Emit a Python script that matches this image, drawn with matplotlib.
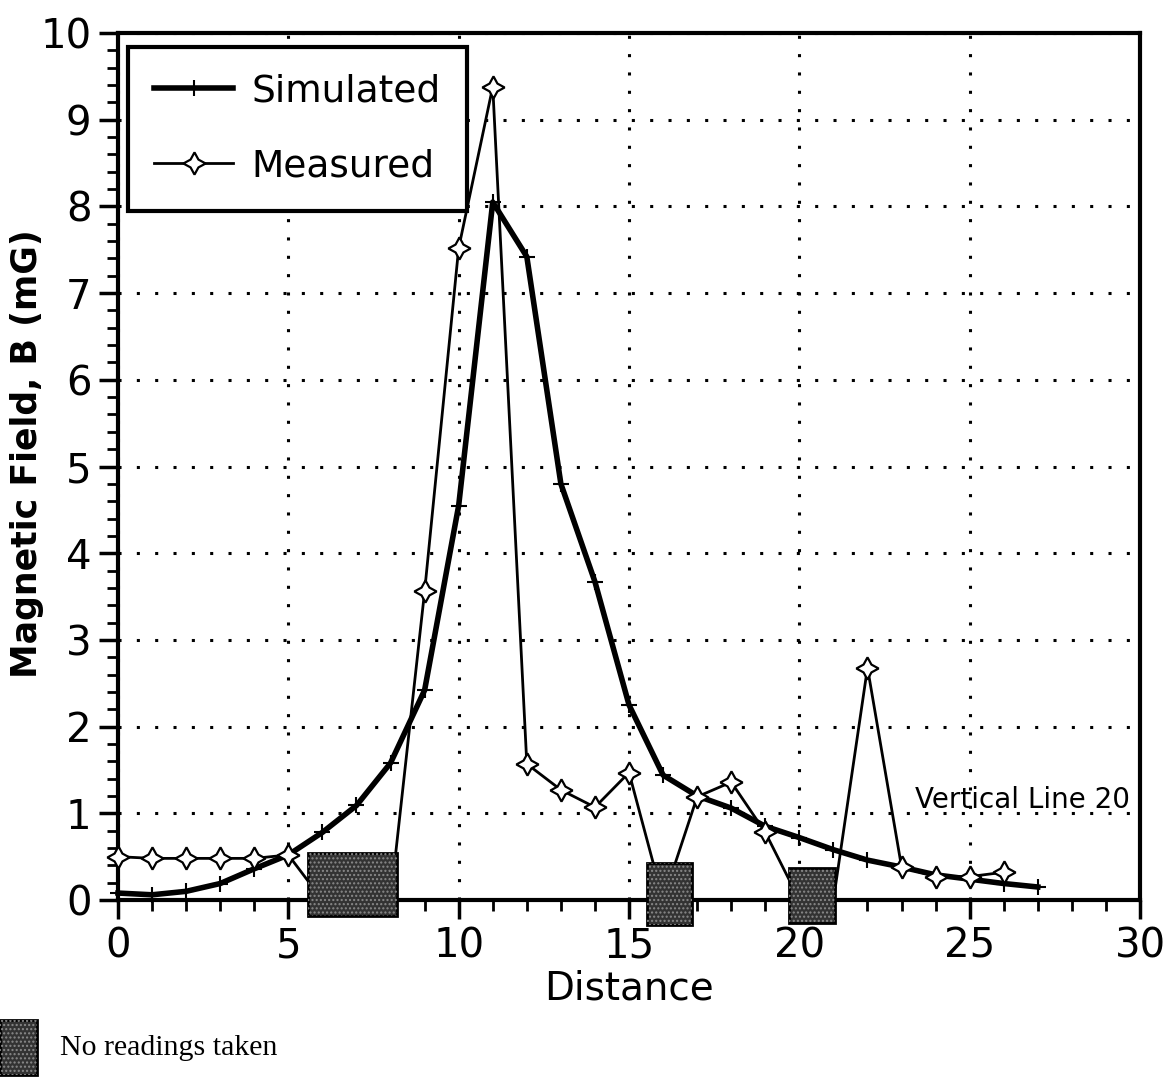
import matplotlib
matplotlib.use("Agg")
import matplotlib.pyplot as plt
from matplotlib.patches import Rectangle
from matplotlib.ticker import MultipleLocator

# values
sim_x = list(range(0, 28))
sim_b = [0.08, 0.06, 0.10, 0.19, 0.36, 0.52, 0.78, 1.09, 1.58, 2.42,
         4.55, 8.05, 7.42, 4.80, 3.67, 2.25, 1.44, 1.20, 1.06, 0.85,
         0.72, 0.58, 0.46, 0.38, 0.29, 0.24, 0.19, 0.15]
meas_x = list(range(0, 27))
meas_b = [0.50, 0.48, 0.48, 0.48, 0.48, 0.52, 0.0, 0.0, 0.0, 3.56,
          7.52, 9.38, 1.57, 1.27, 1.07, 1.47, 0.0, 1.19, 1.36, 0.78,
          0.0, 0.0, 2.68, 0.38, 0.27, 0.27, 0.32]
# spans where no readings were taken (x start, x end, y low, y high)
gaps = [(5.58, 8.19, -0.18, 0.54), (15.54, 16.85, -0.29, 0.43), (19.7, 21.05, -0.27, 0.37)]

plt.rcParams['font.family'] = ['DejaVu Sans']

fig = plt.figure(figsize=(11.73, 10.79), dpi=100)
ax = fig.add_axes([0.1006, 0.1659, 0.8713, 0.8035])

star = (4, 1, 0)
# the missing readings sit under the shaded boxes, so no marker for them
meas_marks = [i for i, v in enumerate(meas_b) if v > 0]
l1, = ax.plot(sim_x, sim_b, color='black', lw=4, marker='+', ms=12, mew=1.5, zorder=3, clip_on=False)
l2, = ax.plot(meas_x, meas_b, color='black', lw=2, marker=star, ms=16, mfc='white', mec='black',
              mew=1.6, markevery=meas_marks, zorder=4, clip_on=False)

def shaded_box(axis, x0, y0, w, h, transform):
    axis.add_patch(Rectangle((x0, y0), w, h, facecolor='#333333', edgecolor='black', lw=2,
                             zorder=6, clip_on=False, transform=transform))
    axis.add_patch(Rectangle((x0, y0), w, h, fill=False, hatch='....', edgecolor='#8a8a8a', lw=0,
                             zorder=7, clip_on=False, transform=transform))

for g in gaps:
    shaded_box(ax, g[0], g[2], g[1] - g[0], g[3] - g[2], ax.transData)

ax.set_xlim(0, 30)
ax.set_ylim(0, 10)
ax.xaxis.set_major_locator(MultipleLocator(5))
ax.xaxis.set_minor_locator(MultipleLocator(1))
ax.yaxis.set_major_locator(MultipleLocator(1))
ax.yaxis.set_minor_locator(MultipleLocator(0.2))
ax.tick_params(which='major', direction='out', length=14, width=2.5, labelsize=29, pad=5)
ax.tick_params(which='minor', direction='out', length=8, width=2)
for s in ax.spines.values():
    s.set_linewidth(3)
ax.grid(True, which='major', color='black', linestyle=(0, (1, 5)), lw=2.2)

ax.set_xlabel('Distance', fontsize=28, labelpad=2)
fig.text(27 / 1173, 1 - 454 / 1079, 'Magnetic Field, B (mG)', fontsize=25, fontweight='bold',
         rotation=90, ha='center', va='center')

ax.text(29.7, 1.15, 'Vertical Line 20', fontsize=20, ha='right', va='center', zorder=8)

leg = ax.legend([l1, l2], ['Simulated', 'Measured'], loc='upper left', bbox_to_anchor=(0.0098, 0.984),
                borderaxespad=0, fontsize=27, frameon=True, fancybox=False, framealpha=1,
                edgecolor='black', handlelength=2.1, handletextpad=0.5, labelspacing=1.05,
                borderpad=0.7)
leg.get_frame().set_linewidth(3)

# key for the shaded boxes
kx = fig.add_axes([0, 0, 1, 1], facecolor='none')
kx.set_axis_off()
kx.set_xlim(0, 1)
kx.set_ylim(0, 1)
shaded_box(kx, 0.0, 1 - 1075 / 1079, 37 / 1173, 55 / 1079, kx.transAxes)
kx.text(60 / 1173, 1 - 1048 / 1079, 'No readings taken', fontsize=21.5, family='Liberation Serif',
        va='center', ha='left')

fig.savefig('out.png', dpi=100)
